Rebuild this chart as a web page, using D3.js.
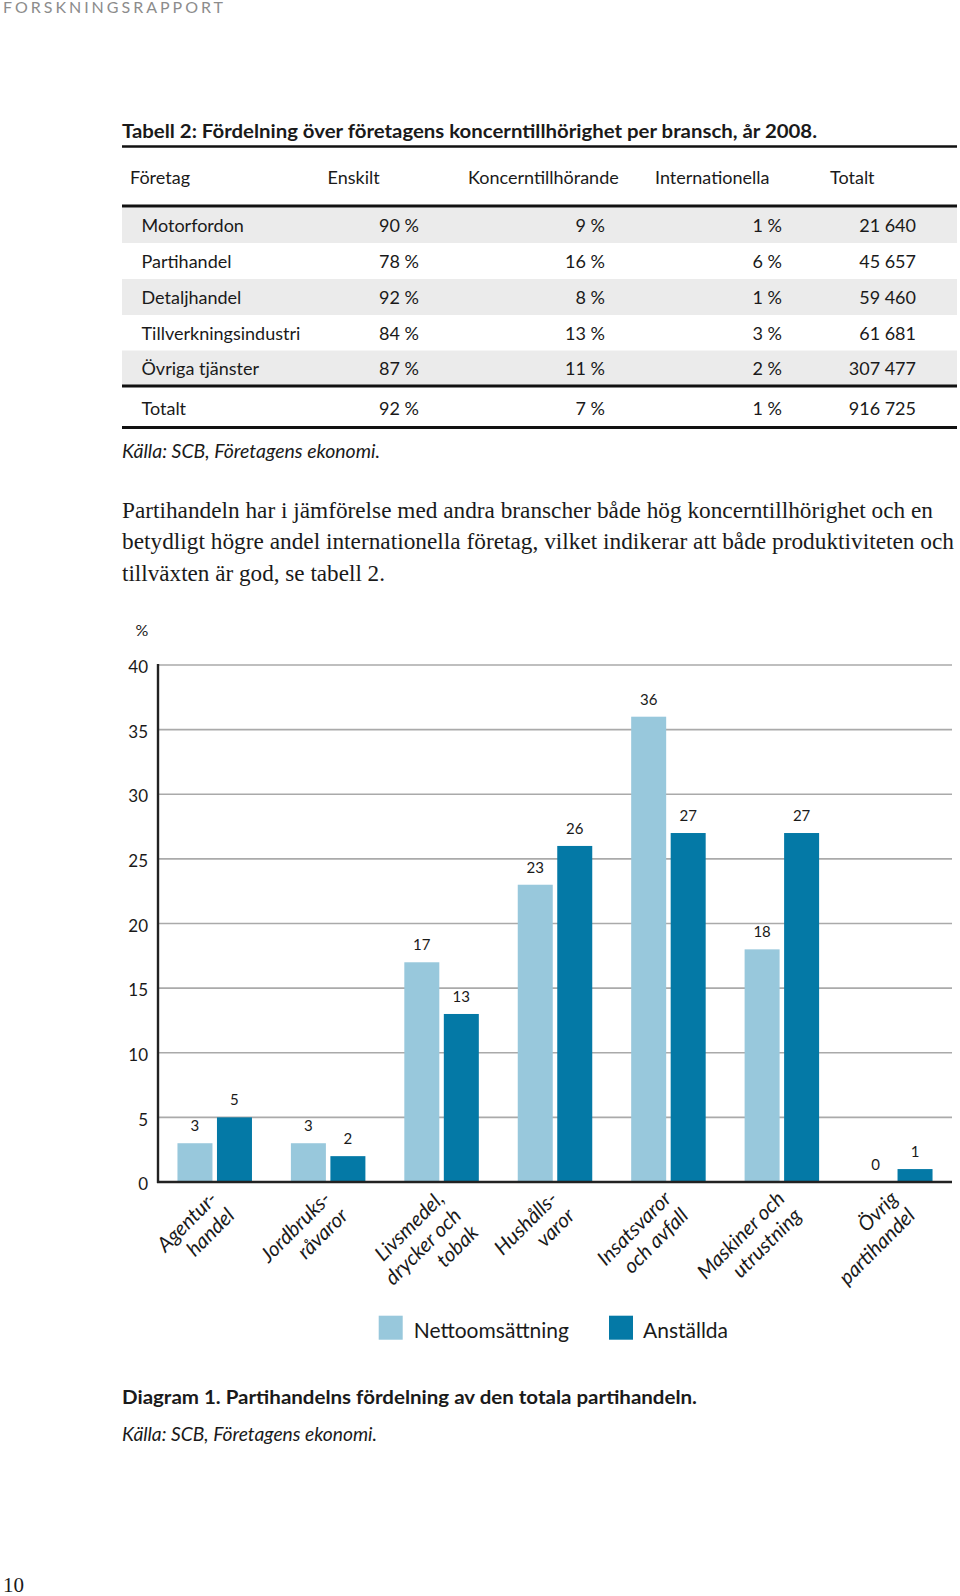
<!DOCTYPE html>
<html>
<head>
<meta charset="utf-8">
<script src="https://cdn.jsdelivr.net/npm/d3@7"></script>
<style>
  html, body { margin: 0; padding: 0; background: #fff; }
  svg { display: block; }
  text { font-family: Lato, "Open Sans", sans-serif; fill: #1a1a1a; }
</style>
</head>
<body>
<script>
// ---------- DATA ----------
const headerLabel = "FORSKNINGSRAPPORT";
const tableTitle = "Tabell 2: Fördelning över företagens koncerntillhörighet per bransch, år 2008.";
const tableColumns = ["Företag", "Enskilt", "Koncerntillhörande", "Internationella", "Totalt"];
const tableBranches = ["Motorfordon", "Partihandel", "Detaljhandel", "Tillverkningsindustri", "Övriga tjänster", "Totalt"];
const enskilt = ["90 %", "78 %", "92 %", "84 %", "87 %", "92 %"];
const koncern = ["9 %", "16 %", "8 %", "13 %", "11 %", "7 %"];
const internationella = ["1 %", "6 %", "1 %", "3 %", "2 %", "1 %"];
const totalt = ["21 640", "45 657", "59 460", "61 681", "307 477", "916 725"];
const tableSource = "Källa: SCB, Företagens ekonomi.";
const paragraphLines = [
  "Partihandeln har i jämförelse med andra branscher både hög koncerntillhörighet och en",
  "betydligt högre andel internationella företag, vilket indikerar att både produktiviteten och",
  "tillväxten är god, se tabell 2."
];
const categories = [
  ["Agentur-", "handel"],
  ["Jordbruks-", "råvaror"],
  ["Livsmedel,", "drycker och", "tobak"],
  ["Hushålls-", "varor"],
  ["Insatsvaror", "och avfall"],
  ["Maskiner och", "utrustning"],
  ["Övrig", "partihandel"]
];
const seriesNames = ["Nettoomsättning", "Anställda"];
const nettoomsattning = [3, 3, 17, 23, 36, 18, 0];
const anstallda = [5, 2, 13, 26, 27, 27, 1];
const yTicks = [0, 5, 10, 15, 20, 25, 30, 35, 40];
const yUnit = "%";
const chartCaption = "Diagram 1. Partihandelns fördelning av den totala partihandeln.";
const chartSource = "Källa: SCB, Företagens ekonomi.";
const pageNumber = "10";

// ---------- STYLE ----------
const colors = { "Nettoomsättning": "#98c8dc", "Anställda": "#0479a6" };

const svg = d3.select("body").append("svg").attr("width", 960).attr("height", 1596);

// Header
svg.append("text").attr("x", 3).attr("y", 13)
  .attr("textLength", 220).attr("lengthAdjust", "spacing")
  .style("font-size", "16px").style("fill", "#8c8c8c").text(headerLabel);

// Table title
svg.append("text").attr("x", 122).attr("y", 138)
  .attr("textLength", 695).attr("lengthAdjust", "spacingAndGlyphs")
  .style("font-size", "19px").style("font-weight", "bold").text(tableTitle);
svg.append("line").attr("x1", 122).attr("x2", 957).attr("y1", 146.5).attr("y2", 146.5)
  .attr("stroke", "#111").attr("stroke-width", 2.5);

// Table header
const headerX = [130, 327.5, 468, 655, 830];
svg.selectAll("text.th").data(tableColumns).join("text").attr("class", "th")
  .attr("x", (d, i) => headerX[i]).attr("y", 184)
  .style("font-size", "18px").text(d => d);

// Table rows
const rowTop = [207.5, 243, 279, 315, 350.5, 387];
const rowBottom = [243, 279, 315, 350.5, 386, 427];
tableBranches.forEach((b, i) => {
  if (i === 0 || i === 2 || i === 4) {
    svg.append("rect").attr("x", 122).attr("y", rowTop[i]).attr("width", 835)
      .attr("height", rowBottom[i] - rowTop[i]).attr("fill", "#ebebeb");
  }
});
const rowBase = [232, 268, 303.5, 339.5, 375, 414.5];
svg.selectAll("text.tr").data(tableBranches).join("text").attr("class", "tr")
  .attr("x", 141.5).attr("y", (d, i) => rowBase[i]).style("font-size", "18px").text(d => d);
const numCols = [[enskilt, 419], [koncern, 605], [internationella, 782], [totalt, 916]];
numCols.forEach(([arr, xr]) => {
  svg.append("g").selectAll("text").data(arr).join("text")
    .attr("x", xr).attr("y", (d, i) => rowBase[i]).attr("text-anchor", "end")
    .style("font-size", "18px").text(d => d);
});
[206, 386, 427.5].forEach(y => {
  svg.append("line").attr("x1", 122).attr("x2", 957).attr("y1", y).attr("y2", y)
    .attr("stroke", "#111").attr("stroke-width", 3);
});
svg.append("text").attr("x", 122).attr("y", 458)
  .attr("textLength", 258).attr("lengthAdjust", "spacingAndGlyphs")
  .style("font-size", "19px").style("font-style", "italic").text(tableSource);

// Paragraph
const paraWidths = [811, 832, 263];
svg.selectAll("text.para").data(paragraphLines).join("text").attr("class", "para")
  .attr("x", 122).attr("y", (d, i) => 517.5 + i * 31.8)
  .attr("textLength", (d, i) => paraWidths[i]).attr("lengthAdjust", "spacingAndGlyphs")
  .style("font-family", "'Liberation Serif', 'DejaVu Serif', serif")
  .style("font-size", "22.5px").text(d => d);

// ---------- CHART ----------
const plot = { left: 158, right: 952, top: 665, bottom: 1182 };
const y = d3.scaleLinear().domain([0, 40]).range([plot.bottom, plot.top]);
const x0 = d3.scaleBand().domain(d3.range(categories.length)).range([plot.left, plot.right]);
const x1 = d3.scaleBand().domain(seriesNames)
  .range([x0.bandwidth() / 2 - 37.25, x0.bandwidth() / 2 + 37.25]).paddingInner(0.114);

// gridlines
svg.append("g").selectAll("line").data(yTicks.filter(t => t > 0)).join("line")
  .attr("x1", plot.left).attr("x2", plot.right)
  .attr("y1", d => y(d)).attr("y2", d => y(d))
  .attr("stroke", "#aaaaaa").attr("stroke-width", 1.6);

// y axis labels
const yAxis = svg.append("g").attr("transform", `translate(${plot.left},0)`)
  .call(d3.axisLeft(y).tickValues(yTicks).tickSize(0).tickPadding(10).tickFormat(d3.format("d")));
yAxis.select(".domain").remove();
yAxis.selectAll("text").style("font-family", "Lato, sans-serif").style("font-size", "17px")
  .style("fill", "#1a1a1a").attr("dy", "0.45em");

svg.append("text").attr("x", 142).attr("y", 636).attr("text-anchor", "middle")
  .style("font-size", "16px").text(yUnit);

// bars
const seriesData = [nettoomsattning, anstallda];
const groups = svg.append("g").selectAll("g").data(categories.map((c, i) => i)).join("g")
  .attr("transform", i => `translate(${x0(i)},0)`);
groups.selectAll("rect")
  .data(i => seriesNames.map((s, k) => ({ s, v: seriesData[k][i] })))
  .join("rect")
  .attr("x", d => x1(d.s)).attr("width", x1.bandwidth())
  .attr("y", d => y(d.v)).attr("height", d => y(0) - y(d.v))
  .attr("fill", d => colors[d.s]);
groups.selectAll("text.val")
  .data(i => seriesNames.map((s, k) => ({ s, v: seriesData[k][i] })))
  .join("text").attr("class", "val")
  .attr("x", d => x1(d.s) + x1.bandwidth() / 2).attr("y", d => y(d.v) - 12)
  .attr("text-anchor", "middle").style("font-size", "15px").text(d => d.v);

// axes lines
svg.append("line").attr("x1", plot.left).attr("x2", plot.left).attr("y1", plot.top - 1).attr("y2", plot.bottom + 1)
  .attr("stroke", "#222").attr("stroke-width", 2.4);
svg.append("line").attr("x1", plot.left - 1).attr("x2", plot.right).attr("y1", plot.bottom).attr("y2", plot.bottom)
  .attr("stroke", "#222").attr("stroke-width", 2.4);

// x labels
const xl = svg.append("g").selectAll("text").data(categories).join("text")
  .attr("transform", (d, i) => `translate(${x0(i) + x0.bandwidth() / 2 + 4},1200) rotate(-45)`)
  .attr("text-anchor", "end").style("font-size", "20.5px").style("font-style", "italic");
xl.selectAll("tspan").data(d => d).join("tspan")
  .attr("x", 0).attr("dy", (d, i) => i === 0 ? 0 : 24).text(d => d);

// legend
const legend = svg.append("g").selectAll("g").data(seriesNames).join("g")
  .attr("transform", (d, i) => `translate(${[378.7, 609][i]},1315.7)`);
legend.append("rect").attr("width", 24).attr("height", 24).attr("fill", d => colors[d]);
legend.append("text").attr("x", (d, i) => [35, 34][i]).attr("y", 22.5)
  .style("font-size", "21px").text(d => d);

// caption
svg.append("text").attr("x", 122).attr("y", 1404)
  .attr("textLength", 575).attr("lengthAdjust", "spacingAndGlyphs")
  .style("font-size", "18px").style("font-weight", "bold").text(chartCaption);
svg.append("text").attr("x", 122).attr("y", 1440.5)
  .attr("textLength", 255).attr("lengthAdjust", "spacingAndGlyphs")
  .style("font-size", "19px").style("font-style", "italic").text(chartSource);

// page number
svg.append("text").attr("x", 3).attr("y", 1592)
  .style("font-family", "'Liberation Serif', serif").style("font-size", "21px").text(pageNumber);
</script>
</body>
</html>
